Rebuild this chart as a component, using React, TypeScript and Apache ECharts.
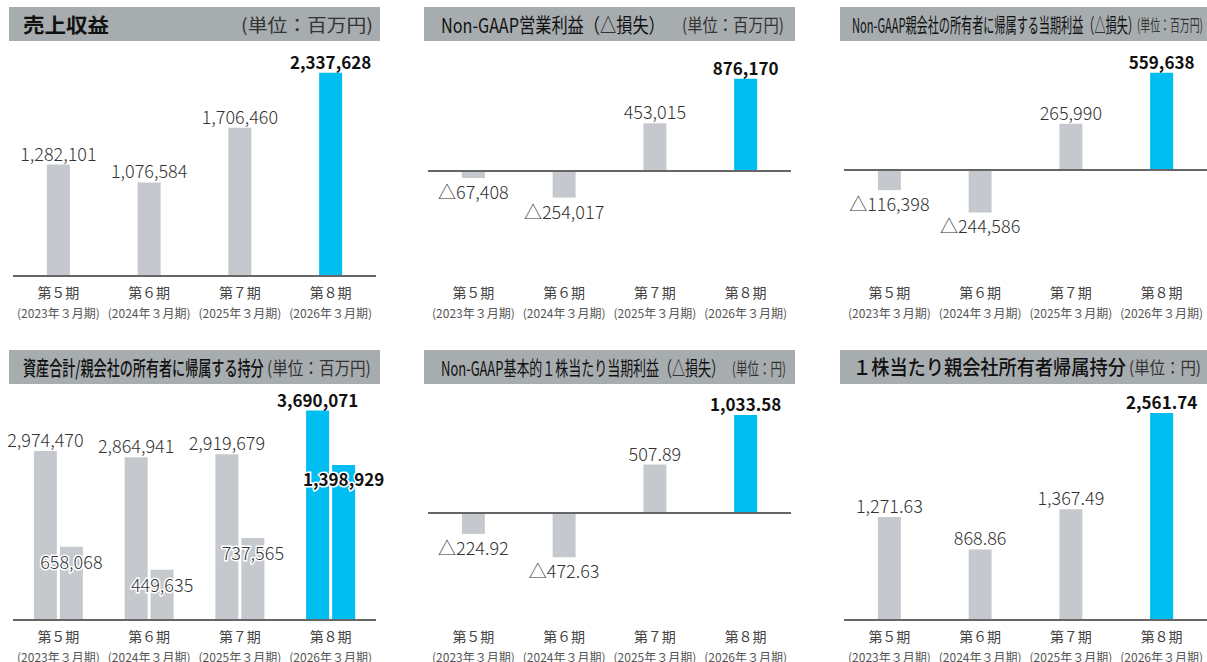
import React, { useEffect, useRef } from "react";
import * as echarts from "echarts";

const categories = ["第５期", "第６期", "第７期", "第８期"];
const periods = ["(2023年３月期)", "(2024年３月期)", "(2025年３月期)", "(2026年３月期)"];

const revenue = [1282101, 1076584, 1706460, 2337628];
const operatingProfit = [-67408, -254017, 453015, 876170];
const netProfit = [-116398, -244586, 265990, 559638];
const totalAssets = [2974470, 2864941, 2919679, 3690071];
const parentEquity = [658068, 449635, 737565, 1398929];
const eps = [-224.92, -472.63, 507.89, 1033.58];
const bps = [1271.63, 868.86, 1367.49, 2561.74];

const GREY = "#c5c9cd";
const BLUE = "#00bdf2";
const FONT = '"Noto Sans CJK JP", "Noto Sans", sans-serif';

const fmtInt = (v: number) => (v < 0 ? "△" : "") + Math.abs(v).toLocaleString("en-US");
const fmtDec = (v: number) =>
  (v < 0 ? "△" : "") +
  Math.abs(v).toLocaleString("en-US", { minimumFractionDigits: 2, maximumFractionDigits: 2 });

let measureCtx: CanvasRenderingContext2D | null = null;
function fitScale(text: string, size: number, weight: string, target: number) {
  if (!measureCtx) measureCtx = document.createElement("canvas").getContext("2d");
  if (!measureCtx) return 1;
  measureCtx.font = `${weight} ${size}px ${FONT}`;
  const w = measureCtx.measureText(text).width;
  return w > 0 ? target / w : 1;
}

export default function App() {
  const ref = useRef<HTMLDivElement>(null);

  useEffect(() => {
    if (!ref.current) return;
    const chart = echarts.init(ref.current, undefined, { renderer: "svg" });

    const colLeft = [13, 428, 844];
    const rowTop = [50, 393];
    const rowH = [226, 227];

    const panels = [
      { row: 0, col: 0, ranges: [[0, 2600000]], series: [revenue], fmt: fmtInt },
      { row: 0, col: 1, ranges: [[-1000000, 1150000]], series: [operatingProfit], fmt: fmtInt },
      { row: 0, col: 2, ranges: [[-610000, 690000]], series: [netProfit], fmt: fmtInt },
      { row: 1, col: 0, ranges: [[0, 4000000], [0, 2050000]], series: [totalAssets, parentEquity], fmt: fmtInt },
      { row: 1, col: 1, ranges: [[-1130, 1265]], series: [eps], fmt: fmtDec },
      { row: 1, col: 2, ranges: [[0, 2810]], series: [bps], fmt: fmtDec },
    ];

    const grid: any[] = [];
    const xAxis: any[] = [];
    const yAxis: any[] = [];
    const series: any[] = [];

    panels.forEach((p, i) => {
      grid.push({ left: colLeft[p.col], width: 363, top: rowTop[p.row], height: rowH[p.row] });
      xAxis.push({
        type: "category",
        gridIndex: i,
        data: categories.map((c, k) => c + "\n" + periods[k]),
        axisLine: { show: false, onZero: false },
        axisTick: { show: false },
        axisLabel: {
          margin: 6,
          interval: 0,
          formatter: (v: string) => {
            const [a, b] = v.split("\n");
            return `{a|${a}}\n{b|${b}}`;
          },
          rich: {
            a: { fontSize: 14, color: "#444", lineHeight: 20, fontFamily: FONT },
            b: { fontSize: 12, color: "#555", lineHeight: 21, fontFamily: FONT },
          },
        },
      });
      const yIdx: number[] = [];
      p.ranges.forEach((r) => {
        yIdx.push(yAxis.length);
        yAxis.push({
          type: "value",
          gridIndex: i,
          min: r[0],
          max: r[1],
          show: false,
          splitLine: { show: false },
        });
      });
      const twin = p.series.length > 1;
      p.series.forEach((vals, si) => {
        const inside = twin && si === 1;
        series.push({
          type: "bar",
          xAxisIndex: i,
          yAxisIndex: yIdx[si],
          barWidth: 23,
          barGap: "13%",
          data: vals.map((v, k) => {
            const hi = k === vals.length - 1;
            return {
              value: v,
              itemStyle: { color: hi ? BLUE : GREY },
              label: {
                position: inside ? "insideTop" : v < 0 ? "bottom" : "top",
                distance: inside ? 5 : v < 0 ? 4 : 3,
                fontWeight: hi ? "bold" : 300,
                fontSize: hi ? 17 : 18,
                color: hi ? "#111" : "#333",
              },
            };
          }),
          label: {
            show: true,
            fontSize: 18,
            fontFamily: FONT,
            formatter: (prm: any) => p.fmt(prm.value),
            ...(inside ? { textBorderColor: "#fff", textBorderWidth: 3 } : {}),
          },
          markLine:
            si === 0
              ? {
                  silent: true,
                  symbol: ["none", "none"],
                  label: { show: false },
                  lineStyle: { color: "#666", width: 2, type: "solid" },
                  data: [{ yAxis: 0 }],
                  z: 5,
                }
              : undefined,
        });
      });
    });

    const barX = [9, 424, 840];
    const barW = [371, 371, 367];
    const barY = [7, 350];
    const titles = [
      { row: 0, col: 0, t: "売上収益", tx: 23, tw: 86, tw8: "bold", u: "(単位：百万円)", ux: 241, uw: 132, us: 18 },
      { row: 0, col: 1, t: "Non-GAAP営業利益（△損失）", tx: 441, tw: 224, tw8: "normal", u: "(単位：百万円)", ux: 682, uw: 102, us: 18 },
      { row: 0, col: 2, t: "Non-GAAP親会社の所有者に帰属する当期利益（△損失）", tx: 852, tw: 287, tw8: "normal", u: "(単位：百万円)", ux: 1137, uw: 66, us: 16 },
      { row: 1, col: 0, t: "資産合計/親会社の所有者に帰属する持分", tx: 23, tw: 241, tw8: "500", u: "(単位：百万円)", ux: 267, uw: 104, us: 18 },
      { row: 1, col: 1, t: "Non-GAAP基本的１株当たり当期利益（△損失）", tx: 441, tw: 283, tw8: "normal", u: "(単位：円)", ux: 732, uw: 54, us: 17 },
      { row: 1, col: 2, t: "１株当たり親会社所有者帰属持分", tx: 853, tw: 273, tw8: "500", u: "(単位：円)", ux: 1129, uw: 72, us: 17 },
    ];

    const graphic: any[] = [];
    titles.forEach((t) => {
      const y = barY[t.row];
      graphic.push({
        type: "rect",
        shape: { x: barX[t.col], y, width: barW[t.col], height: 34 },
        style: { fill: "#a7acaf" },
        silent: true,
      });
      graphic.push({
        type: "text",
        x: t.tx,
        y: y + 17,
        scaleX: fitScale(t.t, 20, t.tw8, t.tw),
        style: {
          text: t.t,
          fontSize: 20,
          fontWeight: t.tw8,
          fontFamily: FONT,
          fill: "#111",
          align: "left",
          verticalAlign: "middle",
        },
        silent: true,
      });
      graphic.push({
        type: "text",
        x: t.ux,
        y: y + 17,
        scaleX: fitScale(t.u, t.us, "normal", t.uw),
        style: {
          text: t.u,
          fontSize: t.us,
          fontFamily: FONT,
          fill: "#333",
          align: "left",
          verticalAlign: "middle",
        },
        silent: true,
      });
    });

    chart.setOption({
      animation: false,
      backgroundColor: "#fff",
      textStyle: { fontFamily: FONT },
      grid,
      xAxis,
      yAxis,
      series,
      graphic,
    });

    return () => chart.dispose();
  }, []);

  return (
    <div
      ref={ref}
      style={{ position: "absolute", left: 0, top: 0, width: 1207, height: 662 }}
    />
  );
}
